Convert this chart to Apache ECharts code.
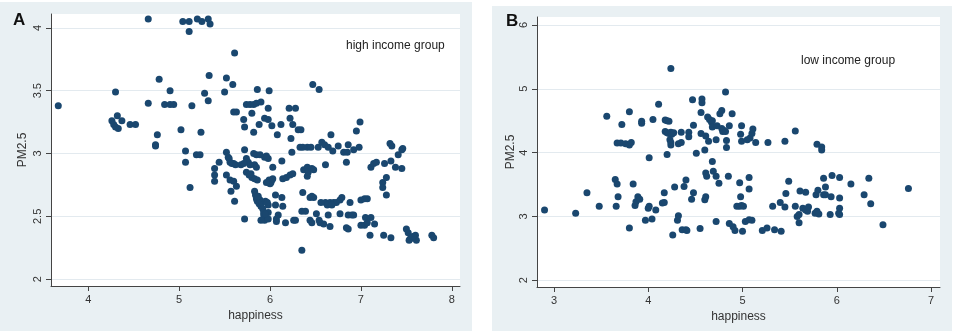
<!DOCTYPE html>
<html>
<head>
<meta charset="utf-8">
<script src="https://cdn.jsdelivr.net/npm/echarts@6/dist/echarts.min.js"></script>
<style>
html,body{margin:0;padding:0;background:#fff;}
#chart{width:957px;height:336px;}
</style>
</head>
<body>
<div id="chart"></div>
<script>
// ---------- DATA ----------
const highHappiness = [3.67,4.66,5.04,5.11,5.11,5.20,5.25,5.32,5.34,5.61,5.33,4.78,4.30,4.90,5.28,5.32,5.52,5.59,5.50,4.66,
4.84,4.90,4.94,5.14,4.26,4.32,4.28,4.33,4.37,4.30,4.46,4.52,4.76,4.74,4.74,5.02,5.24,5.07,5.07,5.19,
5.23,5.12,5.39,5.39,5.39,5.44,5.52,5.54,5.56,5.60,5.52,5.56,5.60,5.57,5.63,5.61,5.72,5.60,5.63,5.71,
5.72,5.74,5.78,5.82,5.85,5.80,5.82,5.86,5.99,5.90,5.88,5.94,5.98,5.98,6.02,6.08,6.12,6.21,6.28,6.22,
6.25,6.31,6.34,6.23,6.24,6.13,6.33,6.41,6.47,6.54,6.53,6.57,6.60,6.64,6.67,6.69,6.61,6.75,6.81,6.85,
6.86,6.92,6.84,6.95,6.99,6.98,7.11,7.14,7.17,7.24,7.24,7.28,7.28,7.26,7.32,7.34,7.33,7.38,7.41,7.45,
7.46,7.45,7.50,7.52,7.54,7.60,7.61,7.53,7.57,7.78,7.80,7.10,7.25,7.33,7.15,7.05,7.11,7.00,7.04,7.07,
7.00,7.04,7.07,6.88,6.86,6.90,6.92,6.84,6.86,6.77,6.79,6.61,6.66,6.70,6.73,6.77,6.63,6.68,6.64,6.55,
6.59,6.66,6.54,6.51,6.44,6.46,6.44,6.48,6.46,6.36,6.35,6.39,6.35,6.28,6.26,6.17,6.09,6.07,6.07,6.06,
6.13,6.14,6.06,5.94,5.93,5.90,5.98,5.98,5.98,6.14,6.18,6.22,6.25,6.03,5.99,6.02,6.01,6.00,6.03,5.96,
5.94,5.98,5.96,5.82,5.85,5.89,5.83,5.85,5.72,5.74,5.76,5.78,5.68,5.71,5.74,5.77,5.80,5.83,5.86,5.79,
5.83,5.84,5.85,5.86,5.88,5.90,5.92,5.93,5.95,5.89,5.91,5.87,5.95,5.97,6.37,6.41,6.42,6.46,6.48,6.41,
6.56,5.55,5.58,5.62,6.36,6.45];
const highPM = [3.38,4.07,4.05,4.05,3.97,4.07,4.05,4.07,4.03,3.80,3.62,3.59,3.49,3.50,3.48,3.42,3.60,3.55,3.49,3.40,
3.39,3.39,3.39,3.38,3.26,3.30,3.23,3.20,3.26,3.21,3.23,3.23,3.15,3.06,3.07,3.19,3.17,3.02,2.93,2.99,
2.99,2.73,2.88,2.83,2.78,2.93,3.01,2.97,2.93,2.92,2.83,2.79,2.78,2.70,2.74,2.62,2.48,3.33,3.33,3.27,
3.21,3.39,3.39,3.39,3.40,3.32,3.17,3.51,3.50,3.41,3.23,3.28,3.27,3.36,3.22,3.15,3.23,3.36,3.36,3.28,
3.23,3.19,3.19,3.12,3.01,2.94,3.05,3.05,3.55,3.51,3.05,3.09,3.07,3.05,3.15,3.02,2.91,3.06,3.01,3.01,
3.07,3.03,2.93,3.18,3.25,3.05,2.89,2.92,2.93,2.77,2.73,2.81,2.67,2.92,3.08,3.06,2.94,2.89,2.99,3.03,
3.04,2.88,2.40,2.37,2.32,2.35,2.31,2.31,2.34,2.35,2.33,2.35,2.35,2.33,2.44,2.49,2.49,2.43,2.43,2.45,
2.63,2.64,2.64,2.61,2.51,2.51,2.51,2.41,2.40,2.52,2.65,2.61,2.61,2.61,2.61,2.63,2.59,2.59,2.51,2.45,
2.44,2.42,2.47,2.52,2.47,2.45,2.65,2.65,2.66,2.69,2.54,2.54,2.23,2.47,2.47,2.45,2.51,2.46,2.48,2.59,
2.65,2.58,2.67,2.47,2.51,2.47,2.59,2.53,2.48,2.80,2.81,2.83,2.84,2.89,2.79,2.79,2.77,2.76,2.80,2.77,
2.97,2.96,2.98,3.00,2.99,2.99,2.91,2.89,3.03,2.96,2.93,2.91,2.91,2.92,2.85,2.83,2.81,2.80,2.79,2.84,
2.70,2.67,2.64,2.62,2.60,2.58,2.56,2.53,2.52,2.63,2.61,2.66,2.62,2.61,2.87,2.89,2.85,2.88,2.87,2.82,
2.61,2.96,2.92,2.91,3.05,3.05];

const lowHappiness = [2.90,3.23,3.35,3.48,3.56,3.65,3.67,3.66,3.68,3.67,3.71,3.76,3.72,3.80,3.80,3.82,3.80,3.84,3.86,3.87,
3.89,3.91,3.93,3.93,3.97,4.01,4.00,4.01,4.04,4.05,4.08,4.11,4.15,4.17,4.17,4.18,4.20,4.22,4.18,4.20,
4.22,4.24,4.25,4.27,4.23,4.24,4.24,4.20,4.24,4.26,4.28,4.31,4.32,4.32,4.35,4.35,4.36,4.40,4.41,4.40,
4.38,4.43,4.43,4.46,4.48,4.47,4.48,4.51,4.55,4.57,4.57,4.56,4.56,4.61,4.60,4.60,4.61,4.61,4.62,4.63,
4.65,4.67,4.68,4.64,4.68,4.69,4.68,4.72,4.72,4.72,4.73,4.75,4.76,4.78,4.78,4.79,4.80,4.82,4.82,4.83,
4.83,4.85,4.86,4.89,4.86,4.90,4.92,4.97,4.98,4.94,4.97,4.99,5.01,5.00,4.99,4.98,4.99,5.05,5.08,5.10,
5.11,5.07,5.07,5.03,5.07,5.10,5.14,5.21,5.26,5.27,5.32,5.34,5.40,5.41,5.45,5.45,5.46,5.49,5.56,5.56,
5.58,5.60,5.60,5.61,5.67,5.64,5.67,5.69,5.70,5.77,5.79,5.81,5.78,5.80,5.79,5.84,5.84,5.86,5.88,5.86,
5.88,5.94,5.93,5.95,6.03,6.03,6.03,6.02,6.03,6.15,6.29,6.34,6.36,6.49,6.76];
const lowPM = [3.10,3.05,3.37,3.16,4.57,3.58,3.51,3.16,3.31,4.15,4.15,4.14,4.44,4.64,4.12,4.16,2.82,3.51,3.17,3.23,
3.31,3.27,4.46,4.49,2.94,3.92,3.13,3.16,2.96,4.52,3.10,4.76,3.21,3.22,3.37,4.51,4.50,4.49,4.33,4.31,
4.30,4.32,4.29,4.31,4.20,4.12,4.16,3.97,5.32,2.71,3.46,2.94,3.01,4.14,4.16,4.32,2.79,2.79,2.78,3.57,
3.47,4.32,4.25,3.27,3.37,4.83,4.43,3.99,2.81,4.84,4.78,4.63,4.30,4.26,4.04,3.26,3.31,3.68,3.63,4.56,
4.52,4.48,4.50,4.18,3.86,3.71,4.40,3.63,2.92,4.20,4.42,3.52,4.61,4.66,4.38,4.33,4.35,4.33,4.95,4.19,
4.08,3.63,4.42,4.61,2.89,2.84,2.78,3.53,3.31,3.16,3.16,3.17,3.16,2.77,4.42,4.29,4.18,4.20,4.23,4.30,
4.37,3.61,3.43,2.92,2.95,2.94,4.16,2.78,2.82,4.16,3.16,2.79,3.22,2.77,4.18,3.15,3.36,3.55,4.34,3.16,
3.00,3.03,2.90,3.40,3.38,3.13,3.10,3.08,3.15,3.05,3.08,3.04,3.34,3.41,4.13,4.09,4.04,3.34,3.34,3.60,
3.46,3.31,3.03,3.64,3.61,3.29,3.13,3.05,3.03,3.51,3.34,3.60,3.20,2.87,3.44];

const highXTicks = [4,5,6,7,8];
const highYTicks = [2,2.5,3,3.5,4];
const lowXTicks = [3,4,5,6,7];
const lowYTicks = [2,3,4,5,6];

// ---------- CHART ----------
const pairs = (xs, ys) => xs.map((x, i) => [x, ys[i]]);
const FONT = 'Liberation Sans, Arial, sans-serif';
const DOT = '#1a476f';
const GRIDC = '#e3eaef';
const PANEL = '#e9f0f3';

function xAxisCfg(gridIndex, min, max, ticks) {
  return {
    type: 'value', gridIndex, min, max,
    name: 'happiness', nameLocation: 'middle', nameGap: 21,
    nameTextStyle: { color: '#333', fontSize: 12, fontFamily: FONT },
    axisLine: { show: true, onZero: false, lineStyle: { color: '#444', width: 1 } },
    axisTick: { show: true, length: 5, customValues: ticks, lineStyle: { color: '#444' } },
    axisLabel: { customValues: ticks, color: '#333', fontSize: 11, margin: 8, fontFamily: FONT, showMinLabel: true, showMaxLabel: true },
    splitLine: { show: false }
  };
}
function yAxisCfg(gridIndex, min, max, ticks, nameGap) {
  return {
    type: 'value', gridIndex, min, max,
    name: 'PM2.5', nameLocation: 'middle', nameGap, nameRotate: 90,
    nameTextStyle: { color: '#333', fontSize: 12, fontFamily: FONT },
    axisLine: { show: true, onZero: false, lineStyle: { color: '#444', width: 1 } },
    axisTick: { show: true, length: 5, customValues: ticks, lineStyle: { color: '#444' } },
    axisLabel: { customValues: ticks, color: '#333', fontSize: 11, margin: 8, rotate: 90, fontFamily: FONT,
      formatter: v => String(v) },
    splitLine: { show: false }
  };
}
function gridLines(ticks) {
  return {
    silent: true, symbol: 'none', animation: false, z: 0, zlevel: 0,
    label: { show: false },
    lineStyle: { color: GRIDC, width: 1, type: 'solid' },
    data: ticks.map(v => ({ yAxis: v }))
  };
}

const chart = echarts.init(document.getElementById('chart'), null, { renderer: 'canvas' });
chart.setOption({
  animation: false,
  backgroundColor: '#ffffff',
  graphic: [
    { type: 'rect', z: -10, shape: { x: 0, y: 2, width: 472, height: 329 }, style: { fill: PANEL } },
    { type: 'rect', z: -10, shape: { x: 492, y: 6, width: 460, height: 325 }, style: { fill: PANEL } },
    { type: 'rect', z: -9, shape: { x: 51, y: 14, width: 409, height: 272 }, style: { fill: '#ffffff' } },
    { type: 'rect', z: -9, shape: { x: 537, y: 17, width: 403, height: 270 }, style: { fill: '#ffffff' } }
  ],
  title: [
    { text: 'A', left: 8, top: 7, textStyle: { fontSize: 17, fontWeight: 'bold', color: '#111', fontFamily: FONT } },
    { text: 'B', left: 501, top: 8, textStyle: { fontSize: 17, fontWeight: 'bold', color: '#111', fontFamily: FONT } },
    { text: 'high income group', left: 341, top: 35, textStyle: { fontSize: 12, fontWeight: 'normal', color: '#222', fontFamily: FONT } },
    { text: 'low income group', left: 796, top: 50, textStyle: { fontSize: 12, fontWeight: 'normal', color: '#222', fontFamily: FONT } }
  ],
  grid: [
    { left: 51, top: 14, width: 409, height: 272, show: false },
    { left: 537, top: 17, width: 403, height: 270, show: false }
  ],
  xAxis: [
    xAxisCfg(0, 3.59, 8.09, highXTicks),
    xAxisCfg(1, 2.82, 7.095, lowXTicks)
  ],
  yAxis: [
    yAxisCfg(0, 1.946, 4.11, highYTicks, 22),
    yAxisCfg(1, 1.895, 6.125, lowYTicks, 20)
  ],
  series: [
    { type: 'scatter', xAxisIndex: 0, yAxisIndex: 0, data: pairs(highHappiness, highPM),
      symbolSize: 7, itemStyle: { color: DOT, opacity: 1 }, z: 5, markLine: gridLines(highYTicks) },
    { type: 'scatter', xAxisIndex: 1, yAxisIndex: 1, data: pairs(lowHappiness, lowPM),
      symbolSize: 7, itemStyle: { color: DOT, opacity: 1 }, z: 5, markLine: gridLines(lowYTicks) }
  ]
});
</script>
</body>
</html>
